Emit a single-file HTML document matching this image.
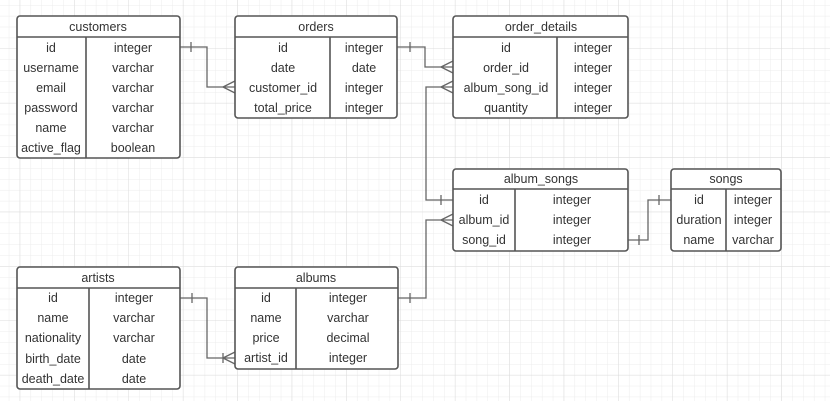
<!DOCTYPE html>
<html><head><meta charset="utf-8"><style>
html,body{margin:0;padding:0;background:#fff;}
svg{display:block;}
text{font-family:"Liberation Sans",Arial,sans-serif;font-size:12.5px;fill:#333;text-anchor:middle;}
</style></head><body>
<svg width="830" height="401" viewBox="0 0 830 401" xmlns="http://www.w3.org/2000/svg">
<defs>
<pattern id="minor" x="8.8" y="5" width="10.88" height="10.88" patternUnits="userSpaceOnUse">
<path d="M0 0H10.88M0 0V10.88" stroke="#ececec" stroke-width="1" fill="none"/>
</pattern>
<pattern id="major" x="19.7" y="48.5" width="54.4" height="54.4" patternUnits="userSpaceOnUse">
<path d="M0 0H54.4M0 0V54.4" stroke="#dcdcdc" stroke-width="1" fill="none"/>
</pattern>
</defs>
<rect width="830" height="401" fill="url(#minor)"/>
<rect width="830" height="401" fill="url(#major)"/>

<g stroke="#666" stroke-width="1.3" fill="none">
<!-- customers -> orders -->
<path d="M180 47H207V87H235"/><path d="M191 42V52"/><path d="M223 87L235 81M223 87L235 93"/>
<!-- orders -> order_details -->
<path d="M397 47H425V67H453"/><path d="M410 42V52"/><path d="M441 67L453 61M441 67L453 73"/>
<!-- order_details album_song_id -> album_songs id -->
<path d="M453 87H426V200H453"/><path d="M441 87L453 81M441 87L453 93"/><path d="M441 195V205"/>
<!-- album_songs album_id -> albums id -->
<path d="M453 220H426V298H397"/><path d="M441 220L453 214M441 220L453 226"/><path d="M410 293V303"/>
<!-- album_songs song_id -> songs id -->
<path d="M628 240H648V200H671"/><path d="M639 235V245"/><path d="M659 195V205"/>
<!-- artists -> albums -->
<path d="M180 298H207V358H235"/><path d="M192 293V303"/><path d="M223 358L235 352M223 358L235 364"/><path d="M223 353V363"/>
</g>

<g stroke="#555" stroke-width="1.6" fill="#fff">
<rect x="17" y="16" width="163" height="142" rx="3"/>
<rect x="235" y="16" width="162" height="102" rx="3"/>
<rect x="453" y="16" width="175" height="102" rx="3"/>
<rect x="453" y="169" width="175" height="82" rx="3"/>
<rect x="671" y="169" width="110" height="82" rx="3"/>
<rect x="17" y="267" width="163" height="122" rx="3"/>
<rect x="235" y="267" width="163" height="102" rx="3"/>
</g>
<g stroke="#555" stroke-width="1.6">
<path d="M17 37H180M86 37V158"/>
<path d="M235 37H397M330 37V118"/>
<path d="M453 37H628M557 37V118"/>
<path d="M453 189H628M515 189V251"/>
<path d="M671 189H781M726 189V251"/>
<path d="M17 288H180M89 288V389"/>
<path d="M235 288H398M296 288V369"/>
</g>

<g>
<text x="98" y="31">customers</text>
<text x="51" y="52">id</text><text x="133" y="52">integer</text>
<text x="51" y="72">username</text><text x="133" y="72">varchar</text>
<text x="51" y="92">email</text><text x="133" y="92">varchar</text>
<text x="51" y="112">password</text><text x="133" y="112">varchar</text>
<text x="51" y="132">name</text><text x="133" y="132">varchar</text>
<text x="51" y="152">active_flag</text><text x="133" y="152">boolean</text>

<text x="316" y="31">orders</text>
<text x="283" y="52">id</text><text x="364" y="52">integer</text>
<text x="283" y="72">date</text><text x="364" y="72">date</text>
<text x="283" y="92">customer_id</text><text x="364" y="92">integer</text>
<text x="283" y="112">total_price</text><text x="364" y="112">integer</text>

<text x="541" y="31">order_details</text>
<text x="506" y="52">id</text><text x="593" y="52">integer</text>
<text x="506" y="72">order_id</text><text x="593" y="72">integer</text>
<text x="506" y="92">album_song_id</text><text x="593" y="92">integer</text>
<text x="506" y="112">quantity</text><text x="593" y="112">integer</text>

<text x="541" y="183">album_songs</text>
<text x="484" y="204">id</text><text x="572" y="204">integer</text>
<text x="484" y="224">album_id</text><text x="572" y="224">integer</text>
<text x="484" y="244">song_id</text><text x="572" y="244">integer</text>

<text x="726" y="183">songs</text>
<text x="699" y="204">id</text><text x="753" y="204">integer</text>
<text x="699" y="224">duration</text><text x="753" y="224">integer</text>
<text x="699" y="244">name</text><text x="753" y="244">varchar</text>

<text x="98" y="282">artists</text>
<text x="53" y="302">id</text><text x="134" y="302">integer</text>
<text x="53" y="322">name</text><text x="134" y="322">varchar</text>
<text x="53" y="342">nationality</text><text x="134" y="342">varchar</text>
<text x="53" y="363">birth_date</text><text x="134" y="363">date</text>
<text x="53" y="383">death_date</text><text x="134" y="383">date</text>

<text x="316" y="282">albums</text>
<text x="266" y="302">id</text><text x="348" y="302">integer</text>
<text x="266" y="322">name</text><text x="348" y="322">varchar</text>
<text x="266" y="342">price</text><text x="348" y="342">decimal</text>
<text x="266" y="362">artist_id</text><text x="348" y="362">integer</text>
</g>
</svg>
</body></html>
